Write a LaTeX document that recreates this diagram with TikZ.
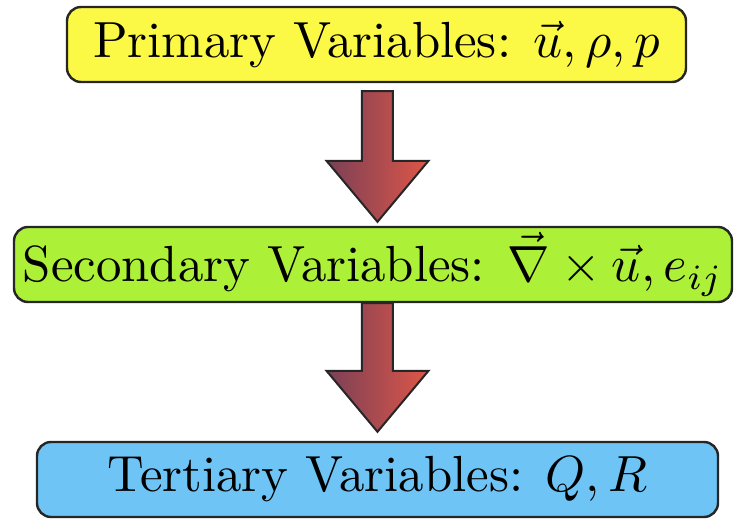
\documentclass[tikz,border=0pt]{standalone}
\usepackage{graphicx}
\usetikzlibrary{calc}
\definecolor{jaune}{RGB}{252,248,70}
\definecolor{vert}{RGB}{172,240,55}
\definecolor{bleu}{RGB}{110,196,245}
\definecolor{flecheG}{RGB}{122,64,86}
\definecolor{flecheD}{RGB}{222,86,72}
\newcommand{\Texte}[1]{\scalebox{2.54}{#1}}
\begin{document}
\begin{tikzpicture}[x=0.5pt,y=-0.5pt]
	% Styles
	\tikzstyle{boite}=[draw=black!85,line width=1.2pt,rounded corners=7pt,minimum height=37.5pt,inner sep=0pt,font=\fontsize{10}{12}\selectfont]
	\tikzstyle{fleche}=[draw=black!85,line width=1pt,left color=flecheG,right color=flecheD]
	% Dimensions
	\def\DemiTige{15.5}
	\def\DemiTete{51}
	\def\HauteurTete{61}
	\useasboundingbox (0,0) rectangle (736,519);
	% Noeuds
	\node[boite,fill=jaune,minimum width=309.5pt] (prim) at (376.5,44.5) {\Texte{Primary Variables: $\vec{u},\rho,p$}};
	\node[boite,fill=vert,minimum width=359pt] (sec) at (373,264.5) {\Texte{Secondary Variables: $\vec{\nabla}\times\vec{u},e_{ij}$}};
	\node[boite,fill=bleu,minimum width=340.5pt] (tert) at (377.5,479.5) {\Texte{Tertiary Variables: $Q,R$}};
	% Points des fleches
	\coordinate (A1) at ($(prim.south)+(1,8)$);
	\coordinate (B1) at ($(A1 |- sec.north)+(0,-4)$);
	\coordinate (A2) at (A1 |- sec.south);
	\coordinate (B2) at ($(A1 |- tert.north)+(0,-9)$);
	% Fleches
	\foreach \a/\b in {A1/B1,A2/B2}
		\draw[fleche] ($(\a)+(-\DemiTige,0)$) -- ($(\a)+(\DemiTige,0)$)
			-- ($(\b)+(\DemiTige,-\HauteurTete)$) -- ($(\b)+(\DemiTete,-\HauteurTete)$)
			-- (\b) -- ($(\b)+(-\DemiTete,-\HauteurTete)$)
			-- ($(\b)+(-\DemiTige,-\HauteurTete)$) -- cycle;
\end{tikzpicture}
\end{document}
